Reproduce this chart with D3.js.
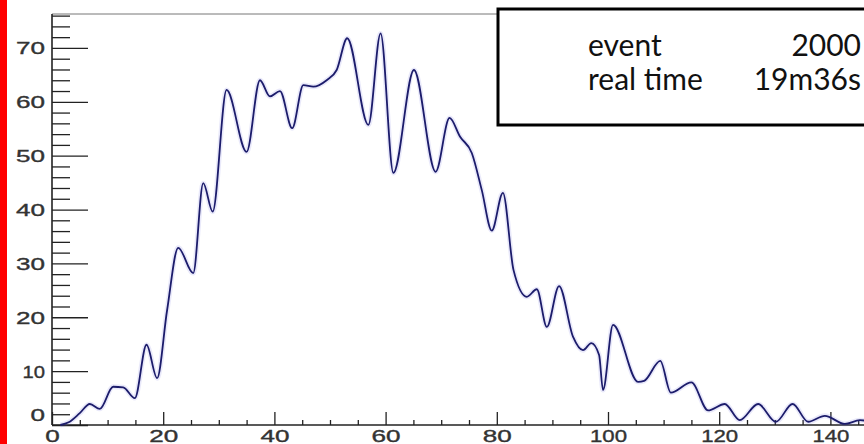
<!DOCTYPE html>
<html>
<head>
<meta charset="utf-8">
<script src="https://cdn.jsdelivr.net/npm/d3@7"></script>
<style>
  body { margin: 0; background: #fff; }
  svg { display: block; }
</style>
</head>
<body>
<div id="draw"></div>
<script>
// points (x value, entries)
var binX = [1.5, 3, 5, 6.8, 8.6, 11, 12.8, 14.9, 17, 18.9, 20.7, 22.7, 25.4, 27.2, 28.9,
    31.4, 35, 37.4, 39.2, 41, 43.2, 45.2, 47, 49.4, 51.2, 53.1, 56.9, 59.1, 61.4, 65.1, 69,
    71.5, 73.4, 75.5, 77.3, 79.1, 81.1, 83, 85.4, 87.2, 89, 91.2, 93.7, 95.5, 97, 98.4, 99.1,
    100.9, 105.4, 106.5, 109.4, 111.3, 115, 118, 121, 123.7, 127, 130.2, 133.2, 136, 139,
    142.6, 145.3, 148];
var counts = [0, 0.5, 2.2, 3.9, 3.0, 7.1, 7.0, 5.0, 14.9, 8.7, 21.3, 32.9, 28.2, 44.9, 39.6,
    62.2, 50.7, 64.0, 61.0, 62.0, 55.1, 63.1, 62.8, 64.0, 65.9, 71.8, 55.7, 72.7, 46.8, 65.9, 47.0,
    57.0, 53.5, 50.5, 43.6, 36.1, 43.1, 28.8, 23.8, 25.2, 18.2, 25.8, 16.4, 13.9, 15.2, 13.0, 6.5,
    18.6, 8.0, 8.2, 11.9, 6.0, 7.9, 2.7, 3.9, 0.9, 3.9, 0.6, 3.9, 0.6, 1.7,
    0.2, 0.9, 0.4];

var xMajor = [0, 20, 40, 60, 80, 100, 120, 140];
var yMajor = [0, 10, 20, 30, 40, 50, 60, 70];
var infoLabels = ["event", "real time"];
var infoValues = ["2000", "19m36s"];

var W = 864, H = 444;
var plotLeft = 52, plotBottom = 425, plotTop = 14;

var x = d3.scaleLinear().domain([0, 150]).range([plotLeft, plotLeft + 150 * 5.56]);
var y = d3.scaleLinear().domain([0, 76.3]).range([plotBottom, plotTop]);

var svg = d3.select('#draw').append('svg')
    .attr('width', W).attr('height', H);

// red strip on the left edge
svg.append('rect').attr('x', 0).attr('y', 0).attr('width', 7).attr('height', H)
    .attr('fill', '#ff0000');

// top frame line
svg.append('line').attr('x1', plotLeft).attr('x2', W).attr('y1', plotTop).attr('y2', plotTop)
    .attr('stroke', '#777').attr('stroke-width', 1);

// y axis: major ticks every 10, minor every 2
var yMinor = d3.range(0, 77, 2).filter(function(v){ return v % 10 !== 0; });
svg.append('g').attr('transform', 'translate(' + plotLeft + ',0)')
    .call(d3.axisRight(y).tickValues(yMinor).tickSize(18).tickFormat(''))
    .call(function(g){ g.select('.domain').remove(); });
var yAxis = svg.append('g').attr('transform', 'translate(' + plotLeft + ',0)')
    .call(d3.axisRight(y).tickValues(yMajor).tickSize(36));
yAxis.select('.domain').remove();
yAxis.selectAll('text').attr('text-anchor', 'end').attr('x', -7)
    .attr('dy', function(d){ return d === 0 ? '-0.25em' : '0.36em'; });

// x axis: major every 20, minor every 5
var xMinor = d3.range(0, 150, 5).filter(function(v){ return v % 20 !== 0; });
svg.append('g').attr('transform', 'translate(0,' + plotBottom + ')')
    .call(d3.axisTop(x).tickValues(xMinor).tickSize(5).tickFormat(''))
    .call(function(g){ g.select('.domain').remove(); });
var xAxis = svg.append('g').attr('transform', 'translate(0,' + plotBottom + ')')
    .call(d3.axisTop(x).tickValues(xMajor).tickSize(13));
xAxis.select('.domain').remove();
xAxis.selectAll('text').attr('y', 17).attr('dy', 0);

svg.selectAll('.tick line').attr('stroke', '#222').attr('stroke-width', 1.3);
// the labels in the picture are stretched wide
svg.selectAll('.tick text')
    .attr('font-family', '"Liberation Sans", Arial, sans-serif')
    .attr('font-size', 16.5).attr('fill', '#333')
    .attr('stroke', '#333').attr('stroke-width', 0.35)
    .attr('lengthAdjust', 'spacingAndGlyphs')
    .attr('textLength', function(){
        var s = this.textContent, w = 0;
        for (var c of s) { w += (c === '1') ? 8 : 14.5; }
        return w;
    });

// axis lines
svg.append('line').attr('x1', plotLeft).attr('x2', plotLeft).attr('y1', plotTop).attr('y2', plotBottom)
    .attr('stroke', '#222').attr('stroke-width', 1.6);
svg.append('line').attr('x1', plotLeft).attr('x2', W).attr('y1', plotBottom).attr('y2', plotBottom)
    .attr('stroke', '#222').attr('stroke-width', 1.6);

// smooth curve through the points
var pts = binX.map(function(d, i){ return [d, counts[i]]; });
var line = d3.line()
    .x(function(d){ return x(d[0]); })
    .y(function(d){ return y(d[1]); })
    .curve(d3.curveMonotoneX);

svg.append('path').datum(pts).attr('d', line)
    .attr('fill', 'none').attr('stroke', 'rgba(110,110,220,0.15)').attr('stroke-width', 5);
svg.append('path').datum(pts).attr('d', line)
    .attr('fill', 'none').attr('stroke', '#1c1c6b').attr('stroke-width', 1.8);

// info box
svg.append('rect').attr('x', 498).attr('y', 9).attr('width', 400).attr('height', 116)
    .attr('fill', '#fff').attr('stroke', '#000').attr('stroke-width', 3);

var info = svg.append('g')
    .attr('font-family', 'Lato, "Open Sans", sans-serif')
    .attr('font-size', 30).attr('fill', '#111');
info.selectAll('text.lab').data(infoLabels).enter().append('text')
    .attr('class', 'lab')
    .attr('x', 588)
    .attr('y', function(d, i){ return 56 + i * 34; })
    .text(function(d){ return d; });
info.selectAll('text.val').data(infoValues).enter().append('text')
    .attr('class', 'val')
    .attr('x', 861).attr('text-anchor', 'end')
    .attr('y', function(d, i){ return 56 + i * 34; })
    .text(function(d){ return d; });
</script>
</body>
</html>
